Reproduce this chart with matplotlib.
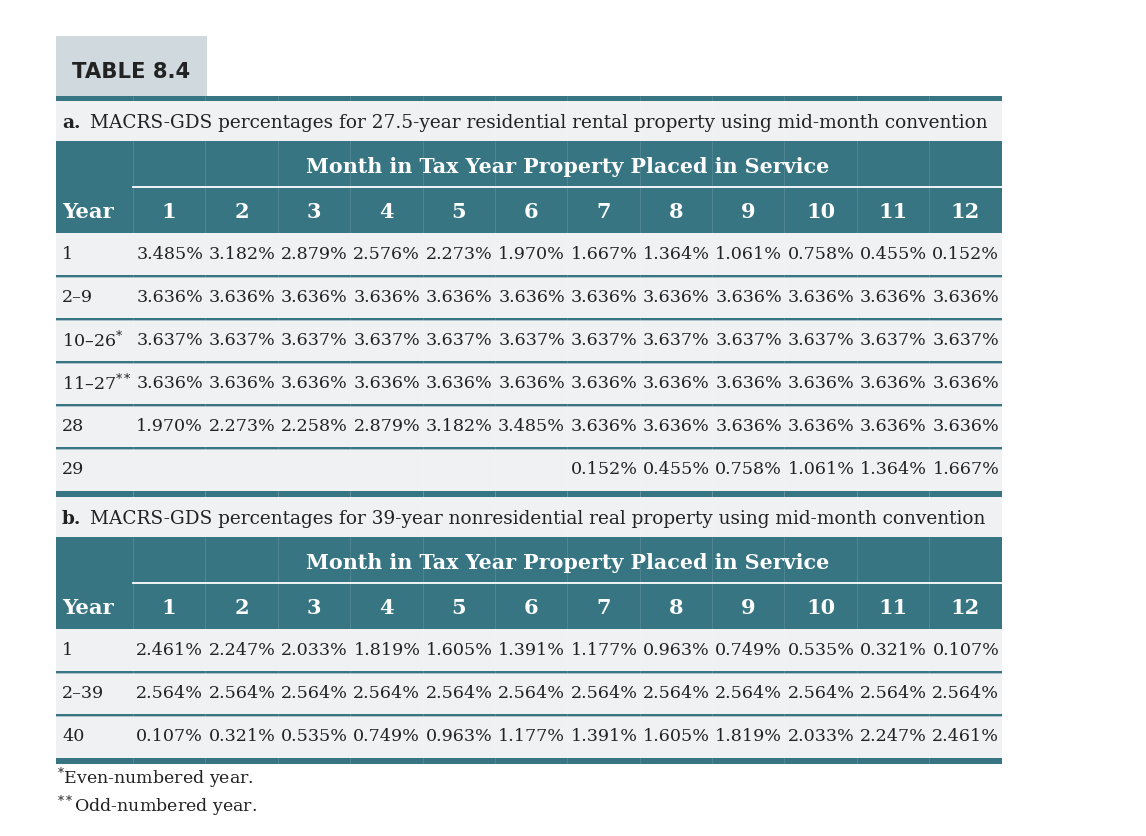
import matplotlib.pyplot as plt
from matplotlib.patches import Rectangle

plt.rcParams['mathtext.fontset'] = 'dejavuserif'

TEAL = '#377582'
LIGHT = '#f0f1f3'
TITLE_BG = '#d0d9de'
INK = '#222222'
SERIF = 'DejaVu Serif'

months = ['1', '2', '3', '4', '5', '6', '7', '8', '9', '10', '11', '12']
header_title = 'Month in Tax Year Property Placed in Service'

caption_a = 'MACRS-GDS percentages for 27.5-year residential rental property using mid-month convention'
years_a = ['1', '2–9', '10–26$^{*}$', '11–27$^{**}$', '28', '29']
rates_a = [
    [3.485, 3.182, 2.879, 2.576, 2.273, 1.970, 1.667, 1.364, 1.061, 0.758, 0.455, 0.152],
    [3.636, 3.636, 3.636, 3.636, 3.636, 3.636, 3.636, 3.636, 3.636, 3.636, 3.636, 3.636],
    [3.637, 3.637, 3.637, 3.637, 3.637, 3.637, 3.637, 3.637, 3.637, 3.637, 3.637, 3.637],
    [3.636, 3.636, 3.636, 3.636, 3.636, 3.636, 3.636, 3.636, 3.636, 3.636, 3.636, 3.636],
    [1.970, 2.273, 2.258, 2.879, 3.182, 3.485, 3.636, 3.636, 3.636, 3.636, 3.636, 3.636],
    [None, None, None, None, None, None, 0.152, 0.455, 0.758, 1.061, 1.364, 1.667],
]

caption_b = 'MACRS-GDS percentages for 39-year nonresidential real property using mid-month convention'
years_b = ['1', '2–39', '40']
rates_b = [
    [2.461, 2.247, 2.033, 1.819, 1.605, 1.391, 1.177, 0.963, 0.749, 0.535, 0.321, 0.107],
    [2.564, 2.564, 2.564, 2.564, 2.564, 2.564, 2.564, 2.564, 2.564, 2.564, 2.564, 2.564],
    [0.107, 0.321, 0.535, 0.749, 0.963, 1.177, 1.391, 1.605, 1.819, 2.033, 2.247, 2.461],
]

footnotes = [('*', 'Even-numbered year.'), ('**', 'Odd-numbered year.')]

W, H = 1146, 836
fig = plt.figure(figsize=(W / 100, H / 100), dpi=100)
ax = fig.add_axes([0, 0, 1, 1])
ax.set_xlim(0, W)
ax.set_ylim(H, 0)
ax.axis('off')

left, right = 56, 1001.5
col0 = 133
colw = (right - col0) / len(months)
rowh = 43


def rect(x0, y0, x1, y1, color):
    ax.add_patch(Rectangle((x0, y0), x1 - x0, y1 - y0, color=color, lw=0))


def section(top, letter, caption, years, rates):
    # caption band
    rect(left, top, right, top + 40, LIGHT)
    ax.text(62, top + 22, letter, fontfamily=SERIF, fontweight='bold',
            fontsize=13.3, color=INK, va='center', ha='left')
    ax.text(90, top + 22, caption, fontfamily=SERIF, fontsize=13.3,
            color=INK, va='center', ha='left')

    # teal header
    htop = top + 40
    hbot = htop + 92
    rect(left, htop, right, hbot, TEAL)
    ax.text((col0 + right) / 2, htop + 26, header_title, fontfamily=SERIF,
            fontweight='bold', fontsize=14.9, color='white', ha='center', va='center')
    ax.plot([col0, right], [htop + 45.5, htop + 45.5], color='white', lw=1.3)
    ax.text(62, htop + 71, 'Year', fontfamily=SERIF, fontweight='bold',
            fontsize=15.2, color='white', ha='left', va='center')
    for j, m in enumerate(months):
        ax.text(col0 + colw * (j + 0.5), htop + 71, m, fontfamily=SERIF,
                fontweight='bold', fontsize=15, color='white', ha='center', va='center')

    # data rows
    y = hbot
    bottom = hbot + rowh * len(years)
    rect(left, hbot, right, bottom, LIGHT)
    for i, (yr, vals) in enumerate(zip(years, rates)):
        cy = y + rowh / 2
        ax.text(62, cy, yr, fontfamily=SERIF, fontsize=12.6, color=INK,
                ha='left', va='center')
        for j, v in enumerate(vals):
            if v is None:
                continue
            ax.text(col0 + colw * (j + 0.5) + 0.5, cy, f'{v:.3f}%', fontfamily=SERIF,
                    fontsize=12.6, color=INK, ha='center', va='center')
        y += rowh
        if i < len(years) - 1:
            rect(left, y - 1, right, y + 1, TEAL)
            rect(left, y + 1, right, y + 2, '#a9c3c9')
    rect(left, bottom, right, bottom + 6, TEAL)

    # faint column boundaries
    for j in range(len(months)):
        x = col0 + colw * j
        ax.plot([x, x], [top - 5, bottom + 6], color='white', lw=0.7, alpha=0.12)
    return bottom + 6


# table number tab
rect(56, 36, 207, 97, TITLE_BG)
ax.text(72, 72, 'TABLE 8.4', fontfamily='DejaVu Sans', fontweight='bold',
        fontsize=15.2, color=INK, ha='left', va='center')

rect(left, 96, right, 101, TEAL)
end_a = section(101, 'a.', caption_a, years_a, rates_a)
end_b = section(end_a, 'b.', caption_b, years_b, rates_b)

for k, (mark, note) in enumerate(footnotes):
    ax.text(57, 778 + 28 * k, f'$^{{{mark}}}$' + note, fontfamily=SERIF,
            fontsize=12.5, color=INK, ha='left', va='center')

fig.savefig('out.png', dpi=100, facecolor='white')
